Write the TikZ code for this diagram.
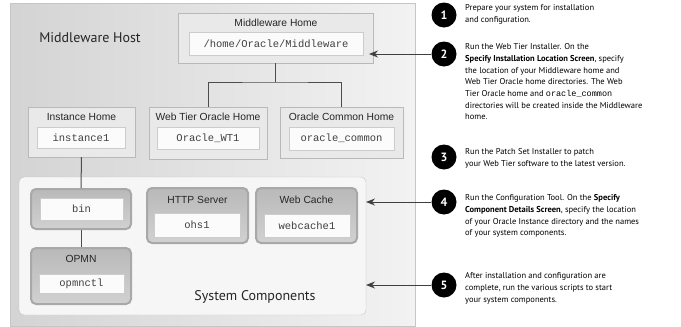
\documentclass[tikz,border=0pt]{standalone}
\usepackage{fontspec}
\setmainfont{PT Sans}
\setmonofont{Liberation Mono}
\newfontfamily\titlefont{Liberation Sans}
\usetikzlibrary{arrows.meta,shadows}

\begin{document}
\begin{tikzpicture}[x=1pt, y=-1pt,
		host/.style={draw=gray!45, left color=gray!34, right color=gray!10, minimum width=405pt, minimum height=323pt},
		home/.style={draw=gray!55, fill=gray!17, drop shadow={shadow xshift=1pt, shadow yshift=-1pt, opacity=0.35}},
		dir/.style={draw=gray!40, fill=gray!3, font=\fontsize{10.5}{12}\selectfont\ttfamily, text=black!75, drop shadow={shadow xshift=1pt, shadow yshift=-1pt, opacity=0.35}},
		title/.style={font=\fontsize{10.3}{12}\selectfont\titlefont, text=black!85, inner sep=0pt},
		sys/.style={draw=gray!45, fill=gray!7, rounded corners=5pt},
		comp/.style={draw=gray!68, line width=2pt, top color=gray!55, bottom color=gray!36, rounded corners=5pt},
		num/.style={circle, fill=black, text=white, minimum size=25pt, inner sep=0pt, font=\fontsize{12}{12}\selectfont\bfseries},
		note/.style={anchor=north west, align=left, inner sep=0pt, font=\fontsize{8.5}{11.7}\selectfont, text=black},
		tree/.style={draw=black!70, line width=1pt},
		arr/.style={draw=black!75, line width=1pt, -{Stealth[length=9pt, width=7pt]}}]
	\useasboundingbox[fill=white] (0,0) rectangle (681,327);

	% host
	\node[host] (host) at (212.5,164.5) {};
	\node[font=\fontsize{14}{16}\selectfont, text=black!85] (hostT) at (90,38) {Middleware Host};

	% middleware home
	\node[home, minimum width=195pt, minimum height=50pt] (mwh) at (275.5,38) {};
	\node[title] (mwhT) at (276,23) {Middleware Home};
	\node[dir, minimum width=174pt, minimum height=23pt] (mwhD) at (276,43.5) {/home/Oracle/Middleware};

	% homes
	\node[home, minimum width=107pt, minimum height=50pt] (ih) at (81.5,132) {};
	\node[title] (ihT) at (81.5,117) {Instance Home};
	\node[dir, minimum width=88pt, minimum height=21pt] (ihD) at (81,137.5) {instance1};

	\node[home, minimum width=118pt, minimum height=52pt] (wtoh) at (208,133) {};
	\node[title] (wtohT) at (208,117) {Web Tier Oracle Home};
	\node[dir, minimum width=102pt, minimum height=22pt] (wtohD) at (208,138) {Oracle\_WT1};

	\node[home, minimum width=123pt, minimum height=51pt] (och) at (341.5,132.5) {};
	\node[title] (ochT) at (341.5,117) {Oracle Common Home};
	\node[dir, minimum width=105pt, minimum height=23pt] (ochD) at (341.5,138.5) {oracle\_common};

	\coordinate (split) at (275.5,82);
	\draw[tree] (mwh.south) -- (split);
	\draw[tree] (wtoh.north) |- (split) -| (och.north);

	% system components
	\node[sys, minimum width=347pt, minimum height=138pt] (sc) at (192.5,246) {};
	\node[font=\fontsize{14}{16}\selectfont, text=black!85] (scT) at (255,297) {System Components};

	\node[comp, minimum width=100pt, minimum height=40pt] (bin) at (81,209) {};
	\node[dir, minimum width=83pt, minimum height=22pt] (binD) at (81.5,209) {bin};

	\node[comp, minimum width=100pt, minimum height=56pt] (opmn) at (81,276) {};
	\node[title] (opmnT) at (81,259) {OPMN};
	\node[dir, minimum width=85pt, minimum height=19pt] (opmnD) at (81.5,283.5) {opmnctl};

	\node[comp, minimum width=101pt, minimum height=55pt] (http) at (197.5,215.5) {};
	\node[title] (httpT) at (197.5,200) {HTTP Server};
	\node[dir, minimum width=86pt, minimum height=24pt] (httpD) at (197,225) {ohs1};

	\node[comp, minimum width=101pt, minimum height=55pt] (wc) at (306.5,215.5) {};
	\node[title] (wcT) at (306.5,200) {Web Cache};
	\node[dir, minimum width=86pt, minimum height=23pt] (wcD) at (307,225.5) {webcache1};

	\draw[tree] (ih.south) -- (bin.north);
	\draw[tree] (bin.south) -- (opmn.north);

	% steps
	\node[num] (c1) at (444,15) {1};
	\node[num] (c2) at (444,54) {2};
	\node[num] (c3) at (444,157) {3};
	\node[num] (c4) at (444,202) {4};
	\node[num] (c5) at (444,285) {5};

	\node[note] (n1) at (465,4.5) {Prepare your system for installation\\and configuration.};
	\node[note] (n2) at (465,43.5) {Run the Web Tier Installer. On the\\\textbf{Specify Installation Location Screen}, specify\\the location of your Middleware home and\\Web Tier Oracle home directories. The Web\\Tier Oracle home and {\ttfamily oracle\_common}\\directories will be created inside the Middleware\\home.};
	\node[note] (n3) at (465,148.5) {Run the Patch Set Installer to patch\\your Web Tier software to the latest version.};
	\node[note] (n4) at (465,194.5) {Run the Configuration Tool. On the \textbf{Specify}\\\textbf{Component Details Screen}, specify the location\\of your Oracle Instance directory and the names\\of your system components.};
	\node[note] (n5) at (465,272.5) {After installation and configuration are\\complete, run the various scripts to start\\your system components.};

	\coordinate (t2) at (369,54);
	\coordinate (t4) at (366,202);
	\coordinate (t5) at (366,285);
	\draw[arr] (c2) -- (t2);
	\draw[arr] (c4) -- (t4);
	\draw[arr] (c5) -- (t5);
\end{tikzpicture}
\end{document}
